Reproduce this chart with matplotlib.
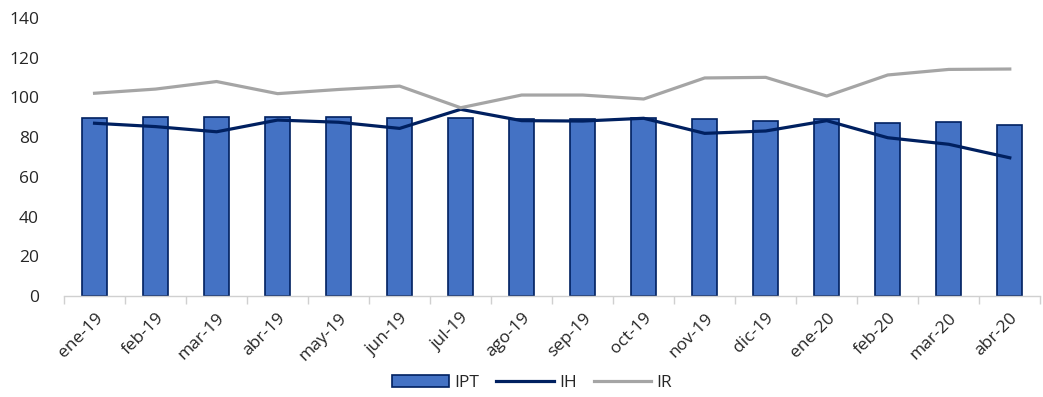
import matplotlib
matplotlib.use("Agg")
import matplotlib.pyplot as plt
import numpy as np

categories = ["ene-19", "feb-19", "mar-19", "abr-19", "may-19", "jun-19", "jul-19", "ago-19",
              "sep-19", "oct-19", "nov-19", "dic-19", "ene-20", "feb-20", "mar-20", "abr-20"]
ipt = [89.5, 90.0, 90.3, 90.3, 90.3, 89.5, 89.5, 89.1, 89.1, 89.8, 89.1, 88.3, 89.0, 87.1, 87.5, 86.1]
ih = [87.0, 85.3, 82.7, 88.6, 87.5, 84.4, 94.0, 88.3, 88.1, 89.5, 81.9, 83.1, 88.3, 79.7, 76.4, 69.6]
ir = [102.1, 104.2, 108.0, 101.9, 104.0, 105.7, 94.8, 101.2, 101.2, 99.2, 109.8, 110.1, 100.7, 111.3, 114.1, 114.3]

plt.rcParams['font.family'] = ['Open Sans', 'DejaVu Sans']

fig = plt.figure(figsize=(10.43, 3.97), dpi=100)
ax = fig.add_axes([0.0614, 0.2544, 0.936, 0.7003])

x = np.arange(len(categories))
b = ax.bar(x, ipt, width=0.41, color="#4472C4", edgecolor="#002060", linewidth=1.2, label="IPT", zorder=2)
l1, = ax.plot(x, ih, color="#002060", linewidth=2.3, label="IH", zorder=3)
l2, = ax.plot(x, ir, color="#A5A5A5", linewidth=2.3, label="IR", zorder=3)

ax.set_ylim(0, 140)
ax.set_yticks(range(0, 141, 20))
ax.set_xlim(-0.5, len(categories) - 0.5)
ax.set_xticks(x)
ax.set_xticklabels(categories, rotation=45, ha="right", rotation_mode="anchor")
ax.set_xticks(np.arange(-0.5, len(categories), 1.0), minor=True)
ax.tick_params(axis="x", which="major", length=0, pad=10, labelsize=12.5, colors="#262626")
ax.tick_params(axis="x", which="minor", length=6, color="#D0D0D0", width=1)
ax.tick_params(axis="y", length=0, labelsize=12.5, colors="#262626", pad=18)

for s in ["top", "right", "left"]:
    ax.spines[s].set_visible(False)
ax.spines["bottom"].set_color("#D0D0D0")
ax.spines["bottom"].set_linewidth(1)

leg = fig.legend([b, l1, l2], ["IPT", "IH", "IR"], loc="center", bbox_to_anchor=(0.51, 0.035),
                 ncol=3, frameon=False, fontsize=12.5, handlelength=3.3, columnspacing=1.0,
                 handletextpad=0.3)
for t in leg.get_texts():
    t.set_color("#262626")

fig.savefig("out.png", dpi=100)
